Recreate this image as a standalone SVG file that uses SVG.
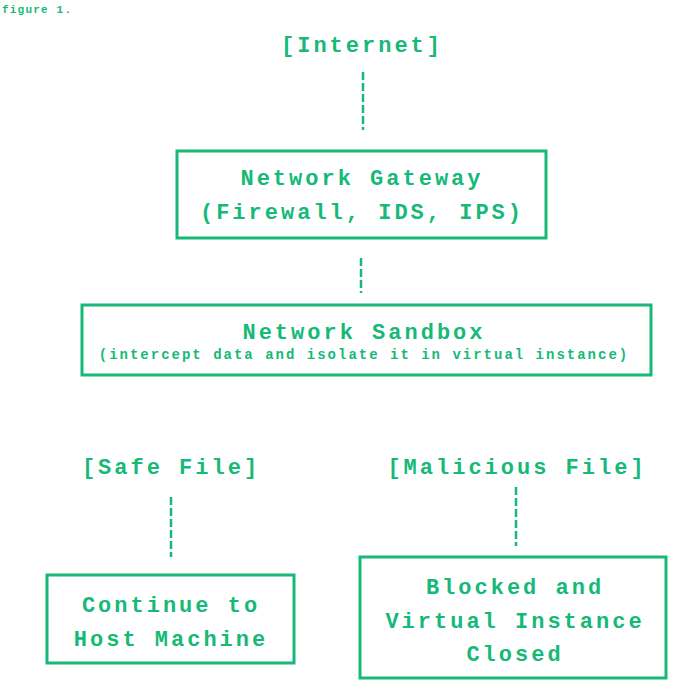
<svg xmlns="http://www.w3.org/2000/svg" width="700" height="700" viewBox="0 0 700 700">
<style>
text{font-family:"Liberation Mono","Courier New",monospace;font-weight:bold;fill:#16b978;text-anchor:middle}
.t{font-size:22px;letter-spacing:3px}
.s{font-size:14px;letter-spacing:2px}
.b{fill:none;stroke:#16b978;stroke-width:3}
.c{stroke:#16b978;stroke-width:2.5;stroke-dasharray:8 3;fill:none}
</style>
<rect width="700" height="700" fill="#fff"/>
<text x="2" y="13" style="font-size:11px;letter-spacing:1.2px;text-anchor:start">figure 1.</text>
<g id="internet"><text class="t" x="362" y="52">[Internet]</text></g>
<g id="gateway"><rect class="b" x="177" y="151" width="369" height="87"/>
<text class="t" x="362" y="185">Network Gateway</text><text class="t" x="362" y="219">(Firewall, IDS, IPS)</text></g>
<g id="sandbox"><rect class="b" x="82" y="305" width="569" height="70"/>
<text class="t" x="364" y="339">Network Sandbox</text><text class="s" x="364" y="359">(intercept data and isolate it in virtual instance)</text></g>
<g id="safe"><text class="t" x="171" y="474">[Safe File]</text></g>
<g id="malicious"><text class="t" x="517" y="474">[Malicious File]</text></g>
<g id="host"><rect class="b" x="47" y="575" width="247" height="88"/>
<text class="t" x="171" y="612">Continue to</text><text class="t" x="171" y="646">Host Machine</text></g>
<g id="blocked"><rect class="b" x="360" y="557" width="306" height="121"/>
<text class="t" x="515" y="594">Blocked and</text><text class="t" x="515" y="628">Virtual Instance</text><text class="t" x="515" y="661">Closed</text></g>
<g id="connectors">
<line class="c" x1="363" y1="72" x2="363" y2="130"/>
<line class="c" x1="361" y1="258" x2="361" y2="293"/>
<line class="c" x1="171" y1="497" x2="171" y2="557"/>
<line class="c" x1="516" y1="487" x2="516" y2="546"/>
</g>
</svg>
